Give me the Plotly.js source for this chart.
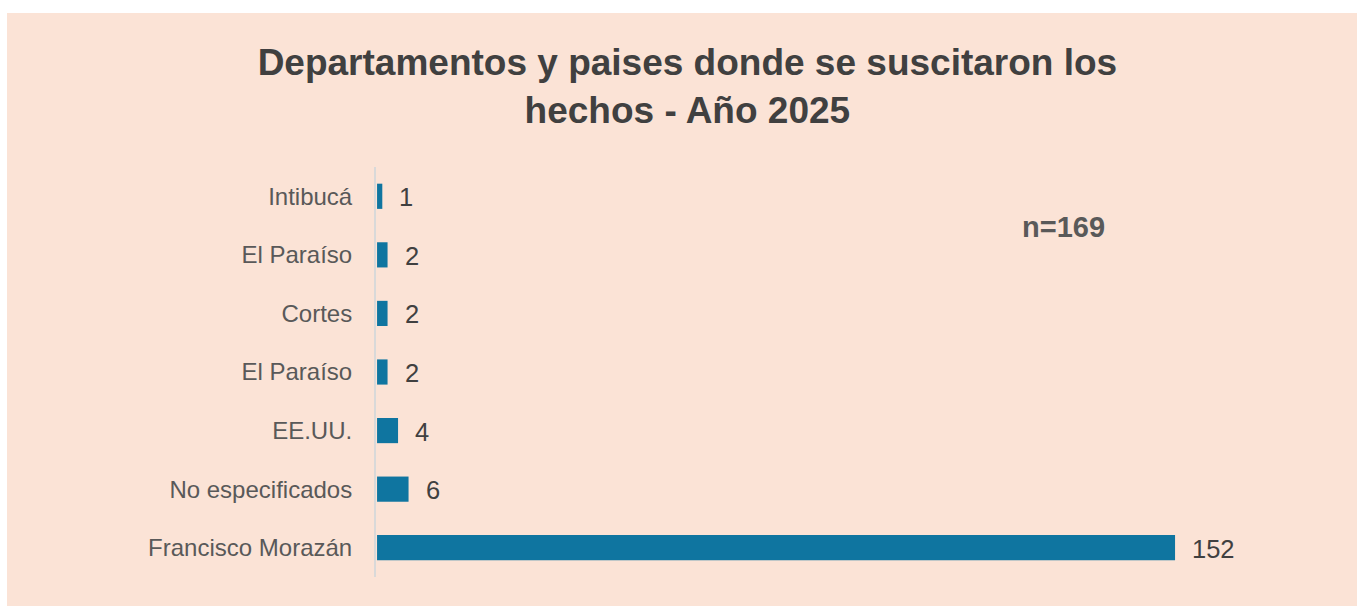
<!DOCTYPE html>
<html>
<head>
<meta charset="utf-8">
<script src="https://cdn.plot.ly/plotly-3.0.1.min.js"></script>
<style>
  html, body { margin: 0; padding: 0; background: #ffffff; width: 1357px; height: 606px; overflow: hidden; }
  #chart { position: absolute; left: 7px; top: 13px; width: 1350px; height: 593px; }
</style>
</head>
<body>
<div id="chart"></div>
<script>
// Data (bottom to top)
const categories = ["Francisco Morazán", "No especificados", "EE.UU.", "El Paraíso", "Cortes", "El Paraíso", "Intibucá"];
const values = [152, 6, 4, 2, 2, 2, 1];
const titleText = "Departamentos y paises donde se suscitaron los<br>hechos - Año 2025";
const noteText = "n=169";

const positions = categories.map((_, i) => i);
const FONT = "Liberation Sans, Arial, sans-serif";

const trace = {
  type: "bar",
  orientation: "h",
  x: values,
  y: positions,
  width: 0.43,
  marker: { color: "#0F75A0" },
  hoverinfo: "x+text",
  text: categories,
  textposition: "none"
};

const valueAnnotations = values.map((v, i) => ({
  x: v, y: positions[i], xref: "x", yref: "y",
  text: String(v), showarrow: false, xanchor: "left", yanchor: "middle",
  xshift: 15, yshift: -1,
  font: { family: FONT, size: 25.5, color: "#404040" }
}));

const layout = {
  width: 1350,
  height: 593,
  paper_bgcolor: "#FBE3D6",
  plot_bgcolor: "#FBE3D6",
  margin: { l: 369, r: 36, t: 154, b: 29 },
  showlegend: false,
  title: {
    text: titleText,
    font: { family: FONT, size: 37, color: "#404040", weight: "bold" },
    x: 0.504, xref: "container", xanchor: "center",
    y: 0.895, yref: "container", yanchor: "top"
  },
  xaxis: {
    range: [-0.2, 179.8],
    visible: false,
    showgrid: false,
    zeroline: false,
    fixedrange: true
  },
  yaxis: {
    range: [-0.5, 6.5],
    tickmode: "array",
    tickvals: positions,
    ticktext: categories,
    showline: true,
    linecolor: "#D9D9D9",
    linewidth: 2,
    showgrid: false,
    zeroline: false,
    ticks: "",
    ticklabelstandoff: 17,
    tickfont: { family: FONT, size: 24, color: "#595959" },
    fixedrange: true
  },
  annotations: valueAnnotations.concat([{
    x: 0.727, y: 0.854, xref: "paper", yref: "paper",
    text: noteText, showarrow: false, xanchor: "center", yanchor: "middle",
    font: { family: FONT, size: 29, color: "#595959", weight: "bold" }
  }])
};

Plotly.newPlot("chart", [trace], layout, { displayModeBar: false, responsive: false });
</script>
</body>
</html>
